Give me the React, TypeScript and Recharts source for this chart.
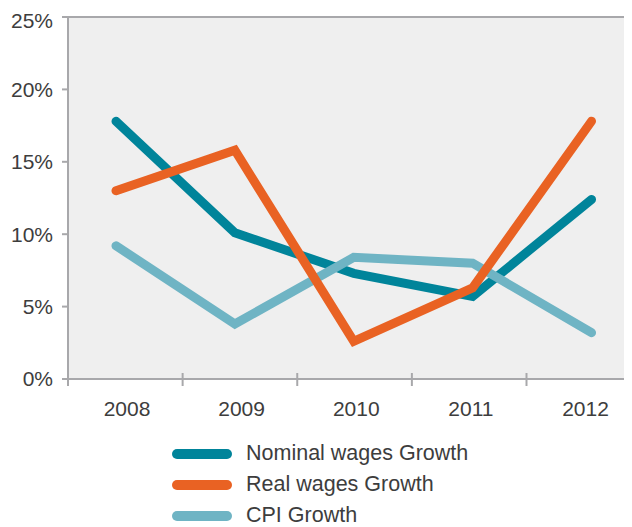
import React from 'react';
import { LineChart, Line, XAxis, YAxis, CartesianGrid, ReferenceLine, Legend } from 'recharts';

const years = ['2008', '2009', '2010', '2011', '2012'];
const nominalWages = [17.8, 10.1, 7.3, 5.7, 12.4];
const realWages = [13.0, 15.8, 2.6, 6.3, 17.8];
const cpi = [9.2, 3.8, 8.4, 8.0, 3.2];
const yTicks = [0, 5, 10, 15, 20, 25];

const series = [
  { key: 'nominal', name: 'Nominal wages Growth', color: '#00849A' },
  { key: 'real', name: 'Real wages Growth', color: '#E96223' },
  { key: 'cpi', name: 'CPI Growth', color: '#6FB4C4' },
];

const data = years.map((y, i) => ({ year: y, nominal: nominalWages[i], real: realWages[i], cpi: cpi[i] }));

const AXIS = '#A8A8AB';
const FONT = '"Liberation Sans", Arial, sans-serif';
const TEXT = '#3d3d3d';
const LABEL_MARGIN = 22;
const BOUNDARY_OFFSET = 59;

const XTick = (props: any) => {
  const { x, y, payload } = props;
  const axisY = y - LABEL_MARGIN;
  const bx = x - BOUNDARY_OFFSET;
  return (
    <g>
      <line x1={bx} x2={bx} y1={axisY - 6} y2={axisY + 7} stroke={AXIS} strokeWidth={2} />
      <text x={x} y={y} dy="0.71em" textAnchor="middle" fill={TEXT} fontSize={21} fontFamily={FONT}>
        {payload.value}
      </text>
    </g>
  );
};

const LegendContent = () => (
  <div style={{ fontFamily: FONT }}>
    {series.map((s) => (
      <div key={s.key} style={{ display: 'flex', alignItems: 'center', height: 31 }}>
        <div style={{ width: 60, height: 10, borderRadius: 5, background: s.color, marginRight: 14 }} />
        <span style={{ fontSize: 21.5, color: TEXT, lineHeight: '31px' }}>{s.name}</span>
      </div>
    ))}
  </div>
);

export default function App() {
  return (
    <div style={{ width: 624, height: 519, overflow: 'hidden' }}>
      <LineChart width={640} height={519} data={data} margin={{ top: 9, right: 8.5, bottom: 118, left: 0 }}>
        <CartesianGrid horizontal={false} vertical={false} fill="#EFEFEF" />
        <XAxis xAxisId="line" dataKey="year" hide padding={{ left: 48, right: 48 }} />
        <XAxis
          xAxisId="lab"
          dataKey="year"
          height={30}
          padding={{ left: 59, right: 54 }}
          axisLine={{ stroke: AXIS, strokeWidth: 2 }}
          tickLine={false}
          tickSize={0}
          tickMargin={LABEL_MARGIN}
          interval={0}
          tick={<XTick />}
        />
        <YAxis
          domain={[0, 25]}
          ticks={yTicks}
          width={60}
          tickFormatter={(v) => `${v}%`}
          tickSize={6}
          tickMargin={9}
          axisLine={{ stroke: AXIS, strokeWidth: 2 }}
          tickLine={{ stroke: AXIS, strokeWidth: 2 }}
          tick={{ fill: TEXT, fontSize: 21, fontFamily: FONT }}
        />
        <YAxis
          yAxisId="ym"
          domain={[0, 25]}
          ticks={yTicks}
          mirror
          tickFormatter={() => ''}
          tickSize={4}
          axisLine={false}
          tickLine={{ stroke: AXIS, strokeWidth: 2 }}
        />
        <ReferenceLine y={25} stroke={AXIS} strokeWidth={2} />
        <Line xAxisId="line" type="linear" dataKey="nominal" name="Nominal wages Growth" stroke="#00849A" strokeWidth={9} strokeLinecap="round" strokeLinejoin="miter" dot={false} isAnimationActive={false} />
        <Line xAxisId="line" type="linear" dataKey="cpi" name="CPI Growth" stroke="#6FB4C4" strokeWidth={9} strokeLinecap="round" strokeLinejoin="miter" dot={false} isAnimationActive={false} />
        <Line xAxisId="line" type="linear" dataKey="real" name="Real wages Growth" stroke="#E96223" strokeWidth={9} strokeLinecap="round" strokeLinejoin="miter" dot={false} isAnimationActive={false} />
        <Legend
          layout="horizontal"
          verticalAlign="middle"
          align="center"
          content={<LegendContent />}
          wrapperStyle={{ position: 'absolute', top: 430, left: 164, width: 400, height: 93 }}
        />
      </LineChart>
    </div>
  );
}
